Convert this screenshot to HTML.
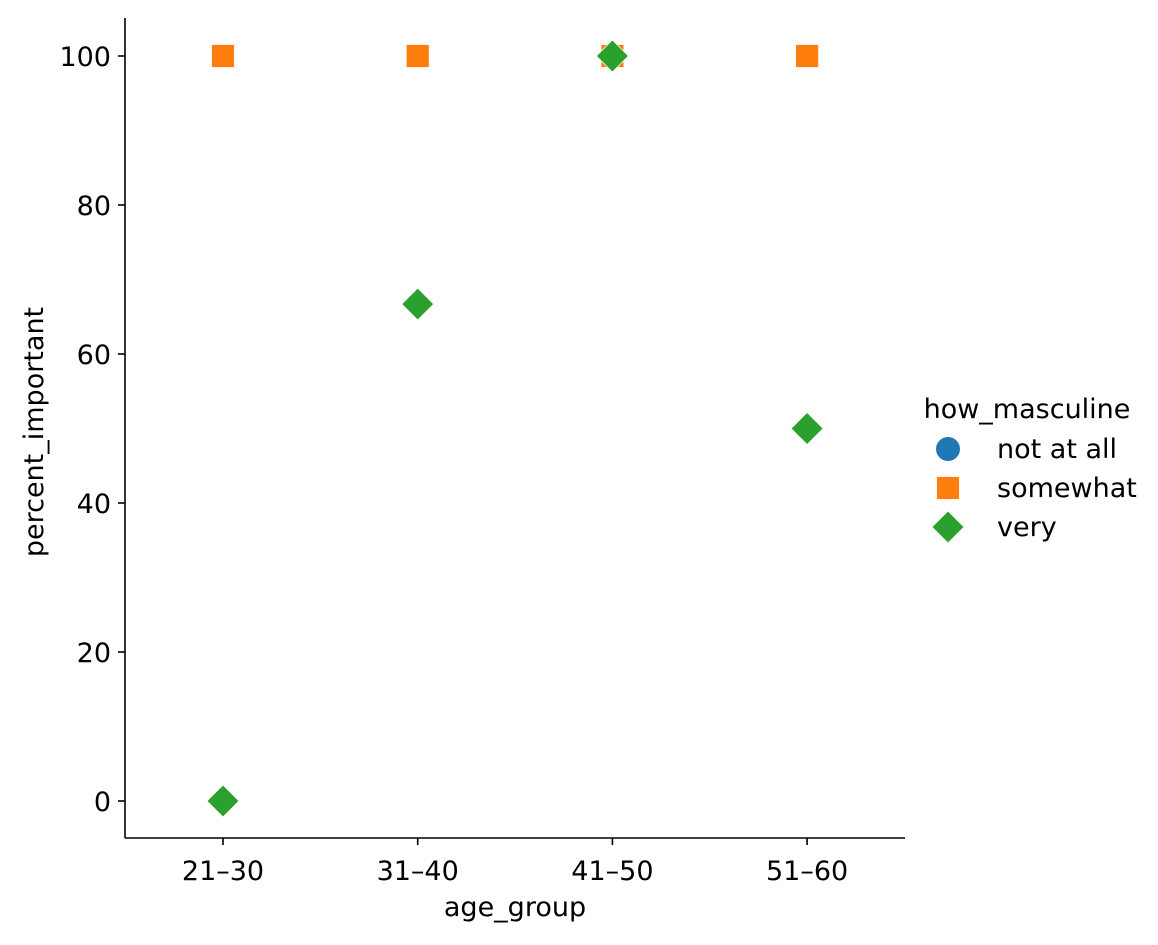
<!DOCTYPE html>
<html><head><meta charset="utf-8"><style>
body{margin:0;background:#fff;}
svg text{font-family:"DejaVu Sans","Liberation Sans",sans-serif;fill:#000;}
</style></head><body>
<svg id="chart" width="1158" height="940"></svg>
<script>
const categories=["21–30","31–40","41–50","51–60"];
const somewhatValues=[100,100,100,100];
const veryValues=[0,66.7,100,50];
const yTicks=[0,20,40,60,80,100];
const NS="http://www.w3.org/2000/svg";
const svg=document.getElementById('chart');
const FS=27;
const x0=125,x1=905,yTop=18,yBot=838;
const xScale=i=>223+i*194.7;
const yScale=v=>801-v*7.45;
function mk(tag,attrs,parent){const e=document.createElementNS(NS,tag);for(const k in attrs)e.setAttribute(k,attrs[k]);(parent||svg).appendChild(e);return e;}
const ax=mk('g',{});


mk('line',{x1:x0,y1:yTop,x2:x0,y2:yBot,stroke:'#000','stroke-width':1.6},ax);
mk('line',{x1:x0,y1:yBot,x2:x1,y2:yBot,stroke:'#000','stroke-width':1.6},ax);
yTicks.forEach(v=>{const y=yScale(v);
mk('line',{x1:x0-7,y1:y,x2:x0,y2:y,stroke:'#000','stroke-width':1.6},ax);
const t=mk('text',{x:x0-14,y:y+10,'text-anchor':'end','font-size':FS},ax);t.textContent=v;

});
categories.forEach((c,i)=>{const x=xScale(i);
mk('line',{x1:x,y1:yBot,x2:x,y2:yBot+7,stroke:'#000','stroke-width':1.6},ax);
const t=mk('text',{x:x,y:yBot+42,'text-anchor':'middle','font-size':FS},ax);t.textContent=c;

});
const xt=mk('text',{x:515,y:916,'text-anchor':'middle','font-size':FS});xt.textContent='age_group';


const yt=mk('text',{x:0,y:0,'text-anchor':'middle','font-size':FS,transform:'translate(43,432) rotate(-90)'});yt.textContent='percent_important';


function square(x,y,p){return mk('rect',{x:x-11.5,y:y-11.5,width:23,height:23,fill:'#ff7f0e',stroke:'#fff','stroke-width':0.8},p);}
function diamond(x,y,p){const r=16;return mk('polygon',{points:`${x},${y-r} ${x+r},${y} ${x},${y+r} ${x-r},${y}`,fill:'#2ca02c',stroke:'#fff','stroke-width':0.8},p);}
somewhatValues.forEach((v,i)=>{const m=square(xScale(i),yScale(v));

});
veryValues.forEach((v,i)=>{const m=diamond(xScale(i),yScale(v));

});
const lg=mk('g',{});


const lt=mk('text',{x:1027,y:418,'text-anchor':'middle','font-size':FS},lg);lt.textContent='how_masculine';
mk('circle',{cx:948,cy:449,r:12,fill:'#1f77b4'},lg);
square(948,488,lg);diamond(948,527,lg);
[['not at all',449],['somewhat',488],['very',527]].forEach(([s,y])=>{const t=mk('text',{x:997,y:y+9,'font-size':FS},lg);t.textContent=s;

});
</script>
</body></html>
